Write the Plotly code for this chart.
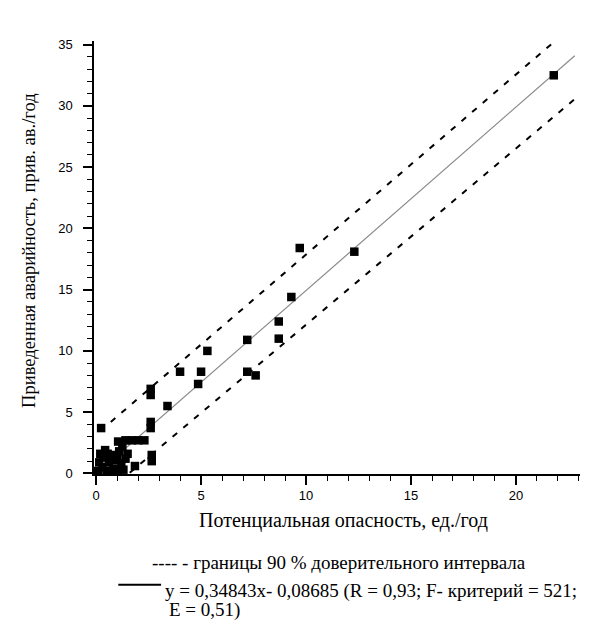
import plotly.graph_objects as go

# Observed points (Потенциальная опасность, Приведенная аварийность)
pot_x = [0.24, 2.6, 2.6, 3.4, 2.6, 2.6, 4.0, 5.0, 4.86, 5.3, 7.2, 7.2, 7.6,
         8.7, 8.7, 9.3, 9.7, 12.3, 21.8, 2.65, 2.65, 1.85, 1.5, 1.4, 1.7,
         2.0, 2.3, 1.05, 0.43,
         0.1, 0.15, 0.3, 0.35, 0.5, 0.6, 0.7, 0.8, 0.9, 1.0, 1.1, 1.2, 1.3,
         1.0, 0.55, 1.25, 0.2, 0.75, 1.4]
avar_y = [3.7, 6.9, 6.4, 5.5, 4.2, 3.7, 8.3, 8.3, 7.3, 10.0, 10.9, 8.3, 8.0,
          11.0, 12.4, 14.4, 18.4, 18.1, 32.5, 1.5, 1.0, 0.6, 1.6, 2.7, 2.7,
          2.7, 2.7, 2.6, 1.9,
          0.2, 0.9, 0.5, 1.3, 0.2, 0.9, 1.5, 0.4, 1.1, 0.3, 1.8, 0.8, 0.3,
          1.4, 1.6, 2.2, 1.6, 0.1, 1.2]

# Regression line and 90 % confidence bounds (end points)
fit_x = [0.3, 22.8]
fit_y = [0.4, 34.1]
upper_x = [0.7, 22.2]
upper_y = [4.2, 35.8]
lower_x = [1.6, 22.9]
lower_y = [0.05, 30.7]

x_ticks = [0, 5, 10, 15, 20]
y_ticks = [0, 5, 10, 15, 20, 25, 30, 35]

x_title = "Потенциальная опасность, ед./год"
y_title = "Приведенная аварийность, прив. ав./год"
legend_1 = "---- - границы 90 % доверительного интервала"
legend_2 = "y = 0,34843x- 0,08685 (R = 0,93; F- критерий = 521;"
legend_3 = "E = 0,51)"

serif = "Liberation Serif"
sans = "Liberation Sans"

fig = go.Figure()
fig.add_trace(go.Scatter(x=fit_x, y=fit_y, mode="lines",
                         line=dict(color="#8a8a8a", width=1.2)))
fig.add_trace(go.Scatter(x=upper_x, y=upper_y, mode="lines",
                         line=dict(color="black", width=2, dash="6px,8px")))
fig.add_trace(go.Scatter(x=lower_x, y=lower_y, mode="lines",
                         line=dict(color="black", width=2, dash="6px,8px")))
fig.add_trace(go.Scatter(x=pot_x, y=avar_y, mode="markers",
                         marker=dict(symbol="square", size=8.5, color="black",
                                     line=dict(width=0))))

axis_common = dict(
    showgrid=False, zeroline=False, showline=True, linecolor="black",
    linewidth=1.5, ticks="outside", ticklen=9, tickwidth=1.5,
    tickcolor="black",
    tickfont=dict(family=sans, size=13, color="black"),
    minor=dict(ticks="outside", ticklen=5, tickwidth=1.2, tickcolor="black",
               dtick=1, showgrid=False),
)

fig.update_xaxes(range=[-0.1, 23.05], tickvals=x_ticks,
                 ticktext=[str(v) for v in x_ticks], **axis_common)
fig.update_yaxes(range=[-0.05, 35.3], tickvals=y_ticks,
                 ticktext=[str(v) for v in y_ticks], ticklabelstandoff=8,
                 **axis_common)

fig.add_annotation(text=x_title, xref="paper", yref="paper", x=0.514,
                   y=-0.108, xanchor="center", yanchor="middle",
                   showarrow=False, font=dict(family=serif, size=20,
                                              color="black"))
fig.add_annotation(text=y_title, xref="paper", yref="paper", x=-0.134,
                   y=0.515, xanchor="center", yanchor="middle",
                   textangle=-90, showarrow=False,
                   font=dict(family=serif, size=18.5, color="black"))
fig.add_annotation(text=legend_1, xref="paper", yref="paper", x=0.893,
                   y=-0.2055, xanchor="right", yanchor="middle",
                   showarrow=False, font=dict(family=serif, size=19,
                                              color="black"))
fig.add_annotation(text=legend_2, xref="paper", yref="paper", x=0.142,
                   y=-0.270, xanchor="left", yanchor="middle",
                   showarrow=False, font=dict(family=serif, size=19,
                                              color="black"))
fig.add_annotation(text=legend_3, xref="paper", yref="paper", x=0.15,
                   y=-0.314, xanchor="left", yanchor="middle",
                   showarrow=False, font=dict(family=serif, size=19,
                                              color="black"))
fig.add_shape(type="line", xref="paper", yref="paper", x0=0.05, x1=0.138,
              y0=-0.256, y1=-0.256, line=dict(color="black", width=2))

fig.update_layout(
    width=590, height=636,
    margin=dict(l=86, r=18, t=33, b=170),
    paper_bgcolor="white", plot_bgcolor="white",
    showlegend=False,
)

fig.write_html("out.html")
